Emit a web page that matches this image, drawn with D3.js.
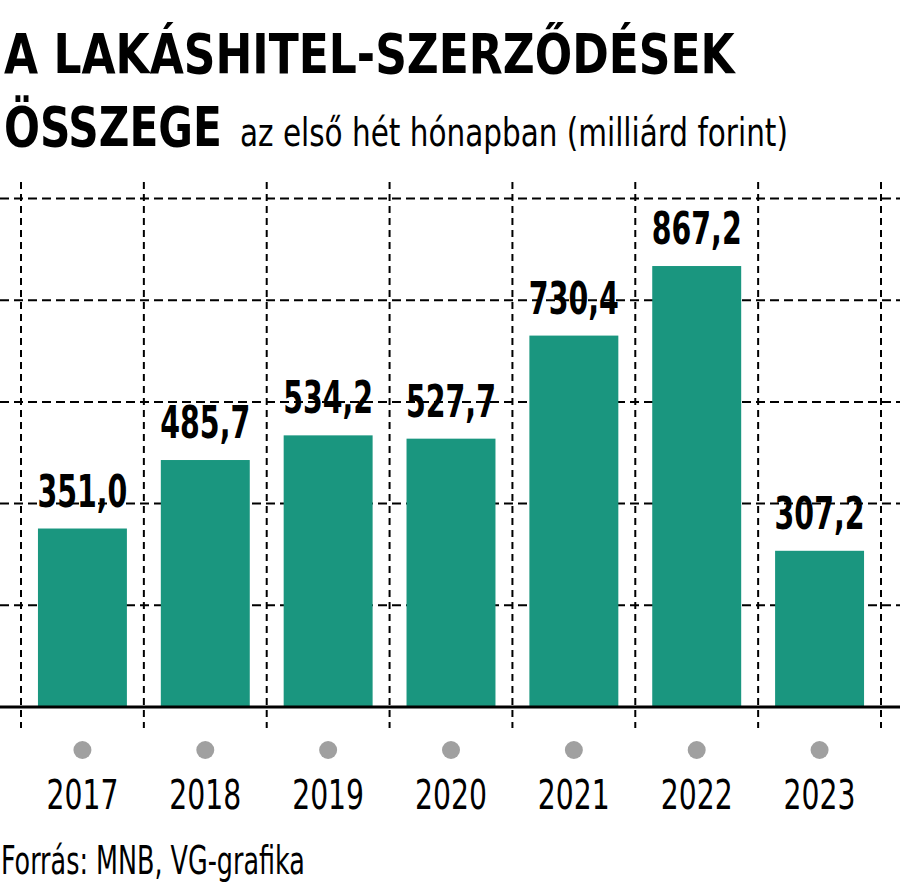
<!DOCTYPE html>
<html>
<head>
<meta charset="utf-8">
<script src="https://cdn.jsdelivr.net/npm/d3@7"></script>
<style>
  body { margin: 0; background: #fff; }
  svg text { font-family: "Liberation Sans Narrow", "DejaVu Sans Condensed", sans-serif; fill: #000; }
</style>
</head>
<body>
<div id="chart"></div>
<script>
// data
var years = ["2017", "2018", "2019", "2020", "2021", "2022", "2023"];
var amounts = [351.0, 485.7, 534.2, 527.7, 730.4, 867.2, 307.2];
var labels = ["351,0", "485,7", "534,2", "527,7", "730,4", "867,2", "307,2"];
var gridTicks = [200, 400, 600, 800, 1000];

var svgWidth = 900;
var svgHeight = 894;

var svg = d3.select("#chart")
  .append("svg")
  .attr("width", svgWidth)
  .attr("height", svgHeight);

var data = years.map(function(y, i) {
  return { year: y, value: amounts[i], label: labels[i] };
});

// squeeze a text horizontally so it takes a given width (condensed look)
function fitText(sel, x, y, target, anchor) {
  sel.each(function() {
    var w = this.getComputedTextLength();
    var k = target / w;
    var dx = anchor === "middle" ? -target / 2 : 0;
    d3.select(this).attr("transform", `translate(${x + dx}, ${y}) scale(${k}, 1)`);
  });
}

// scales
var xScale = d3.scaleBand()
  .domain(years)
  .range([21, 881])
  .paddingInner(0.276)
  .paddingOuter(0.138);

var yScale = d3.scaleLinear()
  .domain([0, 1000])
  .range([707, 198.5]);

var step = xScale.step();
var mid = d => xScale(d) + xScale.bandwidth() / 2;

// horizontal dashed grid
svg.append("g")
  .selectAll("line")
  .data(gridTicks)
  .enter()
  .append("line")
  .attr("x1", 0)
  .attr("x2", svgWidth)
  .attr("y1", d => yScale(d))
  .attr("y2", d => yScale(d))
  .attr("stroke", "#000")
  .attr("stroke-width", 2)
  .attr("stroke-dasharray", "9,5");

// vertical dashed grid at category boundaries
var bounds = years.map(y => xScale(y) - xScale.paddingInner() * step / 2);
bounds.push(xScale(years[years.length - 1]) + xScale.bandwidth() + xScale.paddingInner() * step / 2);

svg.append("g")
  .selectAll("line")
  .data(bounds)
  .enter()
  .append("line")
  .attr("x1", d => d)
  .attr("x2", d => d)
  .attr("y1", 182)
  .attr("y2", 728)
  .attr("stroke", "#000")
  .attr("stroke-width", 2)
  .attr("stroke-dasharray", "7,5");

// bars
svg.append("g")
  .selectAll("rect")
  .data(data)
  .enter()
  .append("rect")
  .attr("x", d => xScale(d.year))
  .attr("width", xScale.bandwidth())
  .attr("y", d => yScale(d.value))
  .attr("height", d => yScale(0) - yScale(d.value))
  .attr("fill", "#1a967f");

// baseline
svg.append("line")
  .attr("x1", 0)
  .attr("x2", svgWidth)
  .attr("y1", yScale(0))
  .attr("y2", yScale(0))
  .attr("stroke", "#000")
  .attr("stroke-width", 3);

// value labels
svg.append("g")
  .selectAll("text")
  .data(data)
  .enter()
  .append("text")
  .attr("font-size", 44)
  .attr("font-weight", "bold")
  .text(d => d.label)
  .each(function(d) {
    fitText(d3.select(this), mid(d.year), yScale(d.value) - 22, 90, "middle");
  });

// grey dots and year labels
svg.append("g")
  .selectAll("circle")
  .data(years)
  .enter()
  .append("circle")
  .attr("cx", d => mid(d))
  .attr("cy", 750)
  .attr("r", 9)
  .attr("fill", "#a0a0a0");

svg.append("g")
  .selectAll("text")
  .data(years)
  .enter()
  .append("text")
  .attr("font-size", 41)
  .text(d => d)
  .each(function(d) {
    fitText(d3.select(this), mid(d), 809, 72, "middle");
  });

// title
svg.append("text")
  .attr("font-size", 56)
  .attr("font-weight", "bold")
  .text("A LAKÁSHITEL-SZERZŐDÉSEK")
  .call(fitText, 4, 73, 731, "start");

svg.append("text")
  .attr("font-size", 56)
  .attr("font-weight", "bold")
  .text("ÖSSZEGE")
  .call(fitText, 4, 146, 218, "start");

svg.append("text")
  .attr("font-size", 39)
  .text("az első hét hónapban (milliárd forint)")
  .call(fitText, 240, 146, 548, "start");

// source
svg.append("text")
  .attr("font-size", 39)
  .text("Forrás: MNB, VG-grafika")
  .call(fitText, 1, 874, 304, "start");
</script>
</body>
</html>
